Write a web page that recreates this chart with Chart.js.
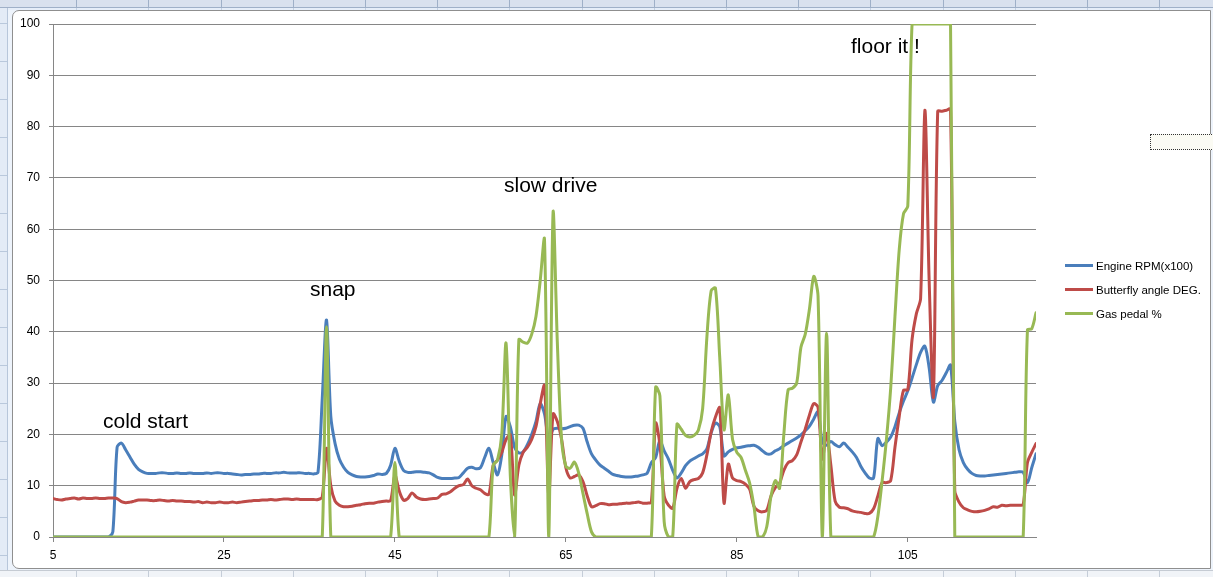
<!DOCTYPE html>
<html><head><meta charset="utf-8">
<script src="https://cdn.jsdelivr.net/npm/chart.js@4"></script>
<style>
html,body{margin:0;padding:0;}
body{width:1213px;height:577px;overflow:hidden;position:relative;background:#edf3fb;font-family:"Liberation Sans",Arial,sans-serif;}
#topbar{position:absolute;left:0;top:0;width:1213px;height:7px;background:repeating-linear-gradient(to right,#d9e1ee 0px,#d9e1ee 71.2px,#9fb0c8 71.2px,#9fb0c8 72.2px);background-position:5px 0;border-bottom:1px solid #9fb0c8;}
#topbar2{position:absolute;left:0;top:8px;width:1213px;height:2px;background:repeating-linear-gradient(to right,#e6eef9 0px,#e6eef9 71.2px,#c3d0e2 71.2px,#c3d0e2 72.2px);background-position:5px 0;}
#leftbar{position:absolute;left:0;top:8px;width:7px;height:569px;background:repeating-linear-gradient(to bottom,#e3ebf6 0px,#e3ebf6 15px,#b9c8dc 15px,#b9c8dc 16px,#e3ebf6 16px,#e3ebf6 38px);border-right:1px solid #b7c6da;}
#botbar{position:absolute;left:0;top:570px;width:1213px;height:7px;background:repeating-linear-gradient(to right,#f1f4f8 0px,#f1f4f8 71.2px,#c5cdd8 71.2px,#c5cdd8 72.2px);background-position:5px 0;border-top:1px solid #c5cbd3;}
#frame{position:absolute;left:12px;top:10px;width:1197px;height:557px;border:1px solid #8f8f8f;border-radius:7px 0 0 7px;background:#fff;}
#c{position:absolute;left:0;top:0;}
.ann{position:absolute;font-size:21px;line-height:21px;color:#000;white-space:nowrap;}
.leg{position:absolute;left:1065px;font-size:11.5px;line-height:14px;color:#000;white-space:nowrap;}
.leg span{display:inline-block;width:28px;height:3px;vertical-align:middle;margin-right:3px;position:relative;top:-1px;}
#tbox{position:absolute;left:1150px;top:134px;width:70px;height:14px;border:1px dotted #333;background:#fbfbf4;}
</style></head>
<body>
<div id="topbar"></div><div id="topbar2"></div><div id="leftbar"></div><div id="botbar"></div>
<div id="frame"></div>
<canvas id="c" width="1213" height="577"></canvas>
<div class="ann" style="left:103px;top:410px">cold start</div>
<div class="ann" style="left:310px;top:278px">snap</div>
<div class="ann" style="left:504px;top:174px">slow drive</div>
<div class="ann" style="left:851px;top:35px">floor it !</div>
<div class="leg" style="top:259px"><span style="background:#4a7ebb"></span>Engine RPM(x100)</div>
<div class="leg" style="top:283px"><span style="background:#be4b48"></span>Butterfly angle DEG.</div>
<div class="leg" style="top:307px"><span style="background:#98b954"></span>Gas pedal %</div>
<div id="tbox"></div>
<script>
// sample index runs from 5 to 120 in half steps
const sampleStart = 5, sampleStep = 0.5;
const xTickValues = [5, 25, 45, 65, 85, 105];
const seriesNames = ["Engine RPM(x100)", "Butterfly angle DEG.", "Gas pedal %"];

const rpm = [
0,0,0,0,0,0,0,0,0,0,
0,0,0,0,1,17.5,18.3,17,15.6,14.2,
13.2,12.7,12.4,12.4,12.4,12.5,12.5,12.4,12.4,12.5,
12.4,12.4,12.5,12.4,12.4,12.4,12.5,12.4,12.5,12.5,
12.4,12.4,12.3,12.2,12.1,12.2,12.2,12.3,12.3,12.4,
12.4,12.4,12.5,12.5,12.6,12.5,12.5,12.5,12.5,12.4,
12.4,12.3,12.6,27,42.3,23.5,18.2,15.2,13.6,12.6,
12.1,11.8,11.7,11.7,11.8,12,12.3,12.2,12.4,14,
17.3,14.8,13,12.6,12.6,12.7,12.7,12.6,12.5,12.1,
11.6,11.4,11.4,11.4,11.5,11.6,12.5,13.4,13.6,13.3,
13.5,15.5,17.3,14.5,12.1,16,23.5,21.5,17.5,16.4,
16.6,18,20,22.5,26,24,19,21,21.2,21.1,
21.2,21.5,21.8,21.8,21.2,18.5,16.2,15,14,13.4,
12.8,12.2,12,11.8,11.7,11.7,11.8,11.9,12.1,12.4,
14.5,15.5,18.8,16.8,15.2,13,11.5,12.5,13.9,14.8,
15.3,15.8,16.2,17.2,20.3,22.2,21.5,15.8,16.6,17.1,
17.4,17.5,17.7,17.8,17.9,17.5,16.8,16.2,16.2,16.8,
17.2,17.8,18.3,18.8,19.3,19.9,20.7,21.6,23,24.4,
18.5,17.9,18.6,18,17.6,18.3,17.5,16.6,15.5,13.8,
12.5,11.5,11.5,19.2,17.8,18.5,19.5,21.5,24.2,26.5,
28.5,31,33.6,36,37.2,33,26.3,29.5,30.5,32,
33.5,22.5,17,14.5,13.2,12.4,12,11.9,11.9,12,
12.1,12.2,12.3,12.4,12.5,12.6,12.7,12.6,10.6,13.5,
16.2];

const butterfly = [
7.5,7.3,7.2,7.4,7.5,7.6,7.4,7.6,7.5,7.5,
7.6,7.5,7.5,7.6,7.6,7.5,6.9,6.7,6.8,7.0,
7.2,7.2,7.2,7.1,7.1,7.2,7.1,7.0,7.1,7.0,
7.0,6.9,6.9,6.8,6.9,6.7,6.8,6.7,6.7,6.8,
6.7,6.7,6.8,6.7,6.8,6.9,7.0,7.1,7.1,7.2,
7.2,7.3,7.2,7.3,7.4,7.4,7.3,7.4,7.3,7.3,
7.3,7.3,7.3,7.8,17.3,10,7,6.2,5.9,5.9,
6,6.2,6.3,6.5,6.6,6.6,6.8,6.9,7,7.1,
12,9,7.2,7.5,8.6,7.8,7.4,7.3,7.4,7.5,
7.6,8.3,8.4,8.8,9.5,10,10.2,11.3,10,9.5,
9.2,8.5,8.3,14,15,16.5,19,19.9,8.2,14,
16.5,17.5,19,21.5,26,29.5,8,24,22.5,19,
13.5,11.5,11.8,12.1,10.8,8,5.9,6.1,6.5,6.5,
6.3,6.4,6.4,6.5,6.6,6.6,6.7,6.8,6.6,6.6,
6.8,22.2,18,8,6.2,5.6,9.5,11.4,9.5,10.8,
11.2,11.4,12.5,16,20.5,23.4,25.2,6.6,14.2,11.5,
11,10.8,10.3,9.3,6,5.1,4.9,5.2,8,9.6,
10.5,13,14.5,14.9,16,18.5,21,23.8,26,25.3,
15.2,20.2,14,7,5.8,5.7,5.5,5.1,4.9,4.8,
4.6,4.6,5.5,8,10.6,10.6,11,17.5,23.5,28.6,
28.7,38.5,43.5,46.5,83.2,50,27.5,83,83,83.2,
83.4,9,6.8,5.7,5.3,5,4.9,5,5.2,5.5,
5.9,5.8,6.2,6.1,6.2,6.2,6.2,6.3,14.5,16.5,
18.2];

const gas = [
0,0,0,0,0,0,0,0,0,0,
0,0,0,0,0,0,0,0,0,0,
0,0,0,0,0,0,0,0,0,0,
0,0,0,0,0,0,0,0,0,0,
0,0,0,0,0,0,0,0,0,0,
0,0,0,0,0,0,0,0,0,0,
0,0,0,0,41,0,0,0,0,0,
0,0,0,0,0,0,0,0,0,0,
14.5,0,0,0,0,0,0,0,0,0,
0,0,0,0,0,0,0,0,0,0,
0,0,0,14,15,20,37.8,12,0,38.5,
38,37.8,39.5,43,50,58,0,63.2,38,19,
13.8,13.4,14.6,12.5,8.5,4.5,1,0,0,0,
0,0,0,0,0,0,0,0,0,0,
0,29.2,27.5,3,0,0,22,21,19.8,19.5,
19.8,20.8,25,39,48,48.5,35,20.9,27.7,19,
16.5,15.5,13,10.5,6,0,0,2,8,11,
9.5,20,28.7,29,30,37,39.5,44.5,50.8,47,
0,39.7,0,0,0,0,0,0,0,0,
0,0,0,4,11,19,29,43,56,63,
64.5,100,100,100,100,100,100,100,100,100,
100,0,0,0,0,0,0,0,0,0,
0,0,0,0,0,0,0,0,40.4,40.6,
43.7];

const samples = rpm.map((_, k) => sampleStart + k * sampleStep);
const toPts = arr => arr.map((v, k) => ({x: samples[k], y: v}));

const gridGray = '#868686';
const mk = (label, data, color, order) => ({
  label, data: toPts(data), borderColor: color, backgroundColor: color,
  borderWidth: 3, pointRadius: 0, tension: 0.3, order,
  borderJoinStyle: 'round', borderCapStyle: 'round', fill: false
});

new Chart(document.getElementById('c'), {
  type: 'line',
  data: { datasets: [
    mk(seriesNames[0], rpm, '#4a7ebb', 3),
    mk(seriesNames[1], butterfly, '#be4b48', 2),
    mk(seriesNames[2], gas, '#98b954', 1)
  ]},
  options: {
    responsive: false, animation: false, devicePixelRatio: 1,
    layout: { padding: { left: 0, top: 24, right: 177, bottom: 0 } },
    plugins: { legend: { display: false }, tooltip: { enabled: false } },
    scales: {
      x: {
        type: 'linear', min: 5, max: 120,
        afterBuildTicks: axis => { axis.ticks = xTickValues.map(v => ({value: v})); },
        afterFit: axis => { axis.height = 40; },
        grid: { drawOnChartArea: false, color: gridGray, tickLength: 5, lineWidth: 1 },
        border: { color: gridGray, width: 1 },
        ticks: { color: '#000', font: { family: 'Liberation Sans', size: 12 }, padding: 6, maxRotation: 0, autoSkip: false }
      },
      y: {
        min: 0, max: 100,
        afterFit: axis => { axis.width = 53; },
        ticks: { stepSize: 10, color: '#000', font: { family: 'Liberation Sans', size: 12 }, padding: 9 },
        grid: { color: gridGray, tickLength: 4, lineWidth: 1 },
        border: { color: gridGray, width: 1 }
      }
    }
  }
});
</script>
</body></html>
